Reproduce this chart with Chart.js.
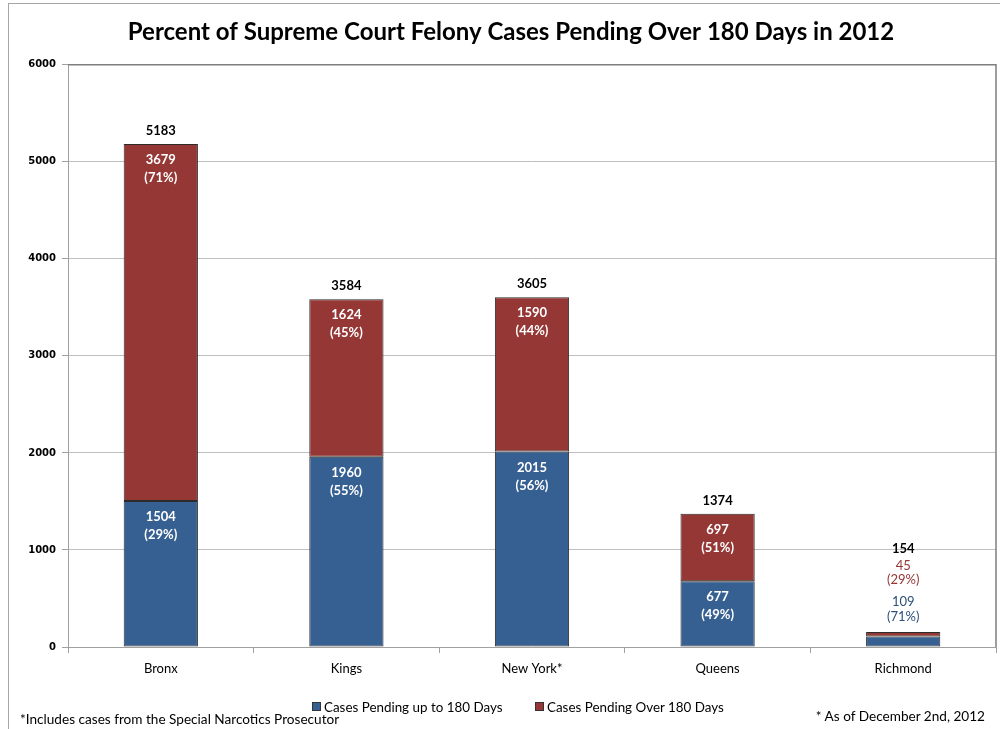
<!DOCTYPE html>
<html>
<head>
<meta charset="utf-8">
<script src="https://cdn.jsdelivr.net/npm/chart.js@4.4.1/dist/chart.umd.min.js"></script>
<style>
    body { margin: 0; background: #fff; }
    #wrap { position: relative; width: 1000px; height: 729px; overflow: hidden; }
    #frame { position: absolute; left: 8px; top: 3px; width: 1100px; height: 800px;
             border-left: 1px solid #a6a6a6; border-top: 1px solid #a6a6a6; }
    canvas { position: absolute; left: 0; top: 0; }
    .note { position: absolute; font: 13.6px Lato, sans-serif; color: #000; white-space: nowrap; }
    .legend { position: absolute; top: 699px; font: 13.4px Lato, sans-serif; color: #000; white-space: nowrap; line-height: 16px; }
    .swatch { display: inline-block; width: 7px; height: 7px; border: 1px solid #333; margin-right: 3px; vertical-align: 1px; }
</style>
</head>
<body>
<div id="wrap">
    <div id="frame"></div>
    <canvas id="chart" width="1000" height="729"></canvas>
    <div class="legend" style="left:312px;"><span class="swatch" style="background:#376092"></span>Cases Pending up to 180 Days</div>
    <div class="legend" style="left:535px;"><span class="swatch" style="background:#953735"></span>Cases Pending Over 180 Days</div>
    <div class="note" style="left:20px; top:711px;">*Includes cases from the Special Narcotics Prosecutor</div>
    <div class="note" style="right:15px; top:708px;">* As of December 2nd, 2012</div>
</div>
<script>
const counties = ["Bronx", "Kings", "New York*", "Queens", "Richmond"];
const upTo180 = [1504, 1960, 2015, 677, 109];
const over180 = [3679, 1624, 1590, 697, 45];
const upTo180Pct = ["29%", "55%", "56%", "49%", "71%"];
const over180Pct = ["71%", "45%", "44%", "51%", "29%"];
const totals = [5183, 3584, 3605, 1374, 154];
const yTicks = [0, 1000, 2000, 3000, 4000, 5000, 6000];

const BLUE = "#376092";
const RED = "#953735";

// value labels in the Excel style: inside end of each segment, totals on top
const barLabels = {
    id: "barLabels",
    afterDatasetsDraw(chart) {
        const ctx = chart.ctx;
        const low = chart.getDatasetMeta(0).data;
        const high = chart.getDatasetMeta(1).data;
        ctx.save();
        ctx.textAlign = "center";
        ctx.textBaseline = "middle";
        counties.forEach((c, i) => {
            const b = low[i], r = high[i];
            const top = r.y;
            const small = (b.base - b.y) < 40 || (r.base - r.y) < 40;
            if (!small) {
                ctx.fillStyle = "#fff";
                ctx.font = "bold 13px Lato";
                ctx.fillText(String(upTo180[i]), b.x, b.y + 16);
                ctx.fillText("(" + upTo180Pct[i] + ")", b.x, b.y + 34);
                ctx.fillText(String(over180[i]), r.x, r.y + 16);
                ctx.fillText("(" + over180Pct[i] + ")", r.x, r.y + 34);
                ctx.fillStyle = "#000";
                ctx.fillText(String(totals[i]), r.x, top - 13);
            } else {
                ctx.font = "13px Lato";
                ctx.fillStyle = "#2c4f7c";
                ctx.fillText(String(upTo180[i]), b.x, top - 30);
                ctx.fillText("(" + upTo180Pct[i] + ")", b.x, top - 15);
                ctx.fillStyle = RED;
                ctx.fillText(String(over180[i]), r.x, top - 66);
                ctx.fillText("(" + over180Pct[i] + ")", r.x, top - 52);
                ctx.fillStyle = "#000";
                ctx.font = "bold 13px Lato";
                ctx.fillText(String(totals[i]), r.x, top - 83);
            }
        });
        ctx.restore();
    },
    beforeDatasetsDraw(chart) {
        const a = chart.chartArea;
        const ctx = chart.ctx;
        ctx.save();
        ctx.strokeStyle = "#7f7f7f";
        ctx.lineWidth = 1.5;
        ctx.beginPath();
        ctx.moveTo(a.left, a.top);
        ctx.lineTo(a.right, a.top);
        ctx.lineTo(a.right, a.bottom);
        ctx.stroke();
        ctx.restore();
    }
};

new Chart(document.getElementById("chart"), {
    type: "bar",
    data: {
        labels: counties,
        datasets: [
            {
                label: "Cases Pending up to 180 Days",
                data: upTo180,
                backgroundColor: BLUE,
                borderColor: "#2b2b2b",
                borderWidth: 1,
                borderSkipped: false
            },
            {
                label: "Cases Pending Over 180 Days",
                data: over180,
                backgroundColor: RED,
                borderColor: "#2b2b2b",
                borderWidth: 1,
                borderSkipped: false
            }
        ]
    },
    options: {
        responsive: false,
        animation: false,
        categoryPercentage: 1,
        barPercentage: 0.4,
        layout: { padding: { left: 26, right: 4, top: 0, bottom: 38 } },
        plugins: {
            title: {
                display: true,
                text: "Percent of Supreme Court Felony Cases Pending Over 180 Days in 2012",
                color: "#000",
                font: { family: "Lato", size: 24, weight: "bold" },
                padding: { top: 18, bottom: 18 }
            },
            legend: { display: false },
            tooltip: { enabled: false }
        },
        scales: {
            x: {
                stacked: true,
                grid: {
                    offset: true,
                    drawOnChartArea: false,
                    tickLength: 6,
                    color: "#a0a0a0"
                },
                border: { color: "#a0a0a0" },
                ticks: {
                    color: "#000",
                    font: { family: "Lato", size: 13 },
                    padding: 8
                },
                afterFit: (s) => { s.height = 44; }
            },
            y: {
                stacked: true,
                min: 0,
                max: 6000,
                afterBuildTicks: (s) => { s.ticks = yTicks.map((v) => ({ value: v })); },
                grid: { color: "#bfbfbf", tickLength: 6, tickColor: "#a0a0a0" },
                border: { color: "#a0a0a0" },
                ticks: {
                    color: "#000",
                    font: { family: "DejaVu Sans", size: 10, weight: "bold" },
                    padding: 6,
                    callback: (v) => String(v)
                },
                afterFit: (s) => { s.width = 42; }
            }
        }
    },
    plugins: [barLabels]
});
</script>
</body>
</html>
